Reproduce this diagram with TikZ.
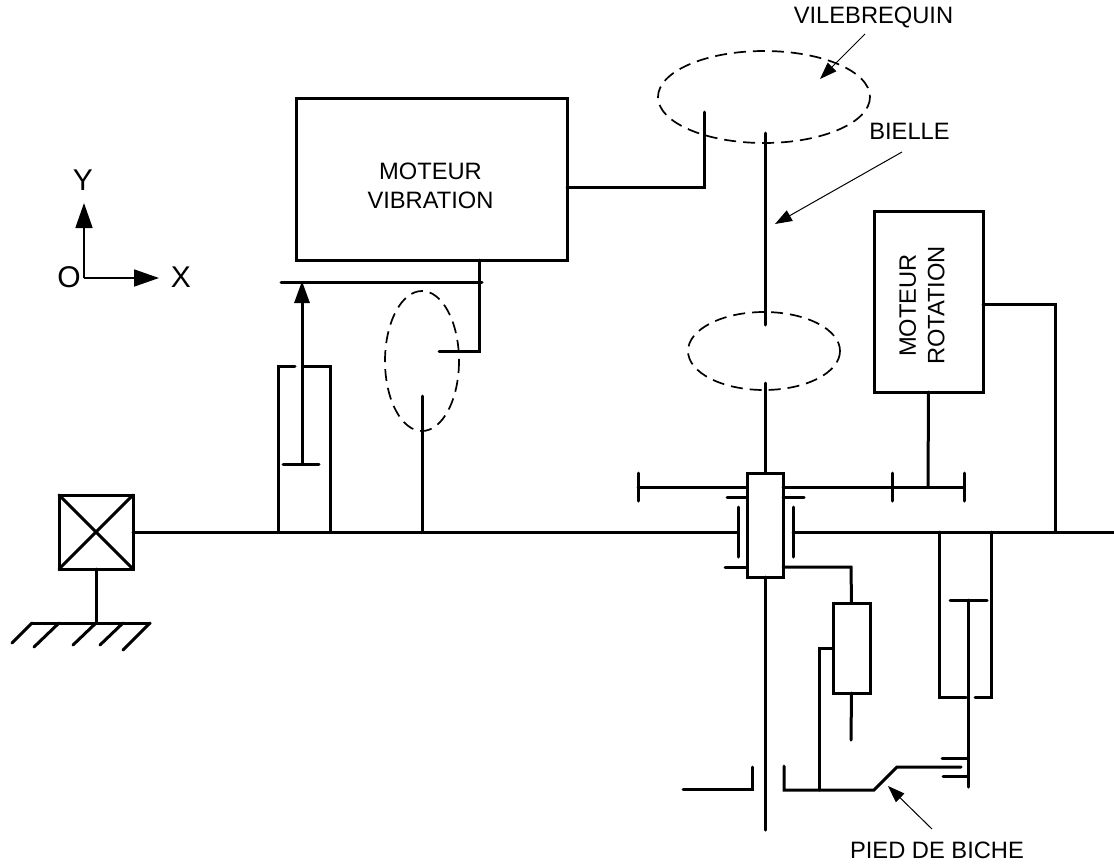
\documentclass[tikz,border=0pt]{standalone}
\usepackage{fontspec}
\setmainfont{Liberation Sans}
\usetikzlibrary{arrows.meta}
\begin{document}
\begin{tikzpicture}[x=1pt,y=-1pt,
  trait/.style={line width=3pt,line cap=round},
  fin/.style={line width=1pt,-{Triangle[length=17pt,width=12pt]}},
  bloc/.style={draw,line width=3pt,inner sep=0pt,outer sep=0pt},
  pointille/.style={line width=1.7pt,dash pattern=on 12pt off 7pt},
  legende/.style={inner sep=0pt,align=center,font=\fontsize{23.7}{28.5}\selectfont},
  repere/.style={inner sep=0pt,font=\fontsize{30}{32}\selectfont},
  axe/.style={line width=1.8pt,-{Triangle[length=25pt,width=17pt]}}]
\useasboundingbox(0,0)rectangle(1114,865);
\node[bloc,minimum width=271pt,minimum height=162pt](MV)at(431.5,179){};
\node[legende](TV)at(430.5,186){MOTEUR\\VIBRATION};
\node[bloc,minimum width=109pt,minimum height=181pt](MR)at(928.5,301.5){};
\node[legende,rotate=90](TR)at(922,305.5){MOTEUR\\ROTATION};
\node[bloc,minimum width=36pt,minimum height=104pt](C)at(765,525){};
\node[bloc,minimum width=37pt,minimum height=90pt](A)at(851.5,648){};
\node[bloc,minimum size=74pt](B)at(96,532){};
\draw[trait](B.north west)--(B.south east);
\draw[trait](B.north east)--(B.south west);
\coordinate(S)at(96,623);
\draw[trait](B.south)--(S);
\draw[trait](32,623)--(150,623);
\draw[trait](32,623)--(12,643);
\draw[trait](59,623)--(34,647);
\draw[trait](96,623)--(73,645);
\draw[trait](123,623)--(100,645);
\draw[trait](150,623)--(123,650);
\draw[trait](B.east)--(738,532);
\draw[trait](793,532)--(1114,532);
\draw[trait](738,507)--(738,557);
\draw[trait](793,507)--(793,557);
\draw[trait](765,133)--(765,325);
\draw[trait](765,383)--(C.north);
\draw[trait](C.south)--(765,830);
\draw[pointille](764,97)ellipse[x radius=106,y radius=46];
\draw[pointille](764,351)ellipse[x radius=76,y radius=39];
\draw[pointille](422,361)ellipse[x radius=37,y radius=70];
\draw[trait](MV.east|-0,187)--(704,187)--(704,112);
\draw[trait](479,260)--(479,351)--(439,351);
\draw[trait](281,282)--(482,282);
\draw[trait](422,396)--(422,532);
\draw[trait](295,366)--(278,366)--(278,532);
\draw[trait](304,366)--(330,366)--(330,532);
\draw[trait](283,464)--(319,464);
\draw[line width=3pt,-{Triangle[length=22pt,width=15pt]}](302,464)--(302,281);
\draw[trait](638,487)--(747,487);
\draw[trait](783,487)--(964,487);
\draw[trait](638,473)--(638,501);
\draw[trait](892,473)--(892,501);
\draw[trait](964,473)--(964,501);
\draw[trait](MR.south)--(928,487);
\draw[trait](727,497)--(747,497);
\draw[trait](783,497)--(804,497);
\draw[trait](725,567)--(747,567);
\draw[trait](783,567)--(851,567)--(A.north);
\draw[trait](A.south)--(851,740);
\draw[trait](833,648)--(819,648)--(819,790);
\draw[trait](784,766)--(784,790)--(874,790)--(897,767)--(961,767);
\draw[trait](683,789)--(752,789)--(752,767);
\draw[trait](983,304)--(1055,304)--(1055,532);
\draw[trait](966,697)--(939,697)--(939,532);
\draw[trait](975,697)--(991,697)--(991,532);
\draw[trait](950,600)--(987,600);
\draw[trait](968,600)--(968,787);
\draw[trait](942,758)--(968,758);
\draw[trait](943,776)--(968,776);
\node[legende](V)at(873.5,17){VILEBREQUIN};
\node[legende](Bi)at(909.5,131.5){BIELLE};
\node[legende](P)at(937,850.5){PIED DE BICHE};
\draw[fin](865,34)--(820,79);
\draw[fin](902,152)--(775,224);
\draw[fin](932,829)--(888,786);
\node[repere](O)at(69,277){O};
\node[repere](Y)at(83,180){Y};
\node[repere](X)at(181,277){X};
\coordinate(Z)at(84,278);
\draw[axe](Z)--(84,203);
\draw[axe](Z)--(159,278);
\end{tikzpicture}
\end{document}
